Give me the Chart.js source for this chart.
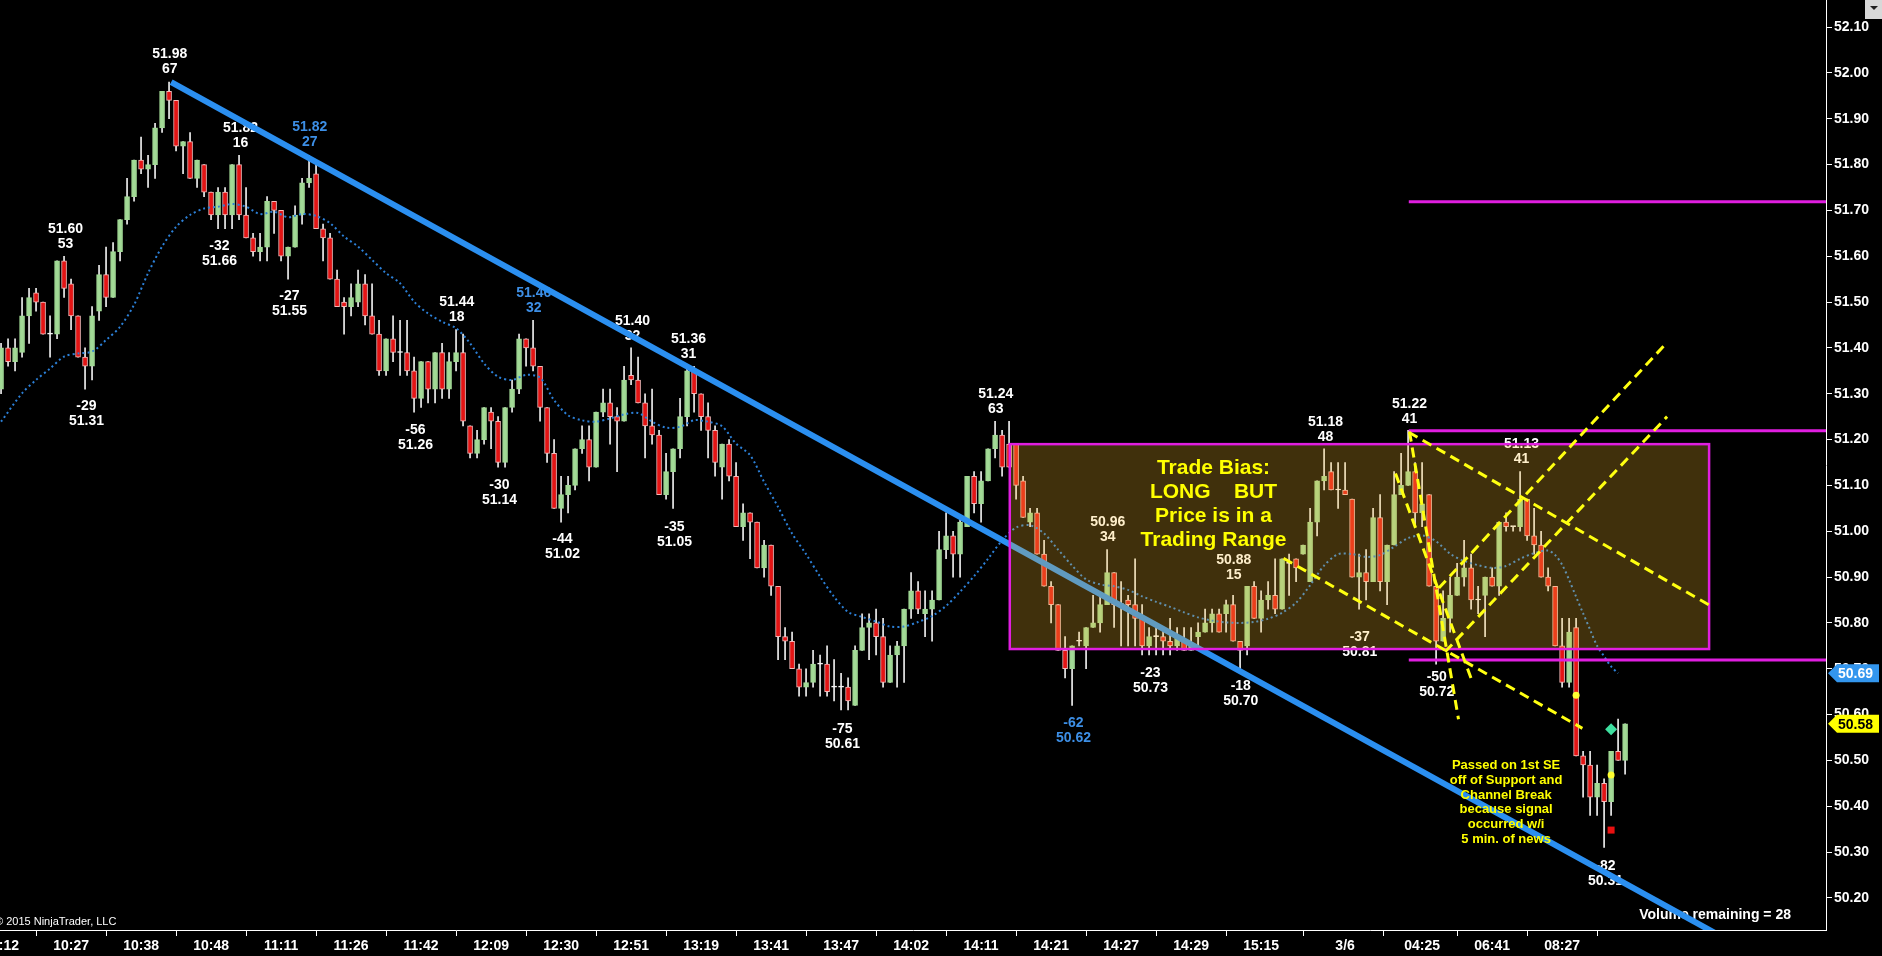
<!DOCTYPE html>
<html>
<head>
<meta charset="utf-8">
<title>Tick chart</title>
<script src="https://cdn.jsdelivr.net/npm/chart.js@4.4.1/dist/chart.umd.min.js"></script>
<style>
  html, body { margin: 0; padding: 0; background: #000; overflow: hidden; }
  canvas { display: block; }
</style>
</head>
<body>
<canvas id="myChart" width="1882" height="956"></canvas>
<script>
// bar data (one bar per index)
var openPrices = [
  51.31,51.40,51.37,51.39,51.47,51.52,51.50,51.43,51.43,51.59,
  51.54,51.47,51.38,51.36,51.48,51.56,51.51,51.61,51.68,51.73,
  51.81,51.79,51.80,51.88,51.96,51.94,51.84,51.85,51.77,51.80,
  51.74,51.69,51.74,51.69,51.80,51.69,51.64,51.61,51.62,51.72,
  51.70,51.60,51.62,51.69,51.76,51.78,51.66,51.64,51.55,51.50,
  51.49,51.50,51.54,51.47,51.43,51.35,51.42,51.39,51.39,51.35,
  51.29,51.37,51.31,51.39,51.31,51.37,51.39,51.23,51.17,51.20,
  51.26,51.24,51.15,51.27,51.31,51.42,51.40,51.36,51.27,51.17,
  51.05,51.08,51.10,51.18,51.20,51.14,51.26,51.28,51.25,51.24,
  51.34,51.33,51.28,51.23,51.21,51.08,51.13,51.18,51.25,51.35,
  51.30,51.25,51.22,51.14,51.19,51.12,51.01,51.04,51.02,50.92,
  50.97,50.88,50.77,50.76,50.70,50.66,50.67,50.71,50.71,50.66,
  50.66,50.66,50.62,50.74,50.79,50.80,50.77,50.67,50.73,50.75,
  50.83,50.87,50.82,50.83,50.85,50.96,50.99,50.95,51.01,51.12,
  51.06,51.11,51.18,51.21,51.19,51.19,51.11,51.02,51.04,50.95,
  50.88,50.84,50.74,50.70,50.76,50.75,50.79,50.80,50.84,50.91,
  50.84,50.85,50.84,50.81,50.75,50.77,50.77,50.76,50.75,50.76,
  50.74,50.77,50.78,50.80,50.82,50.82,50.84,50.76,50.75,50.88,
  50.81,50.85,50.86,50.83,50.93,50.94,50.95,50.89,51.02,51.11,
  51.13,51.09,51.09,51.07,50.90,50.91,50.89,51.03,50.89,50.97,
  51.08,51.10,51.13,51.04,51.08,50.88,50.76,50.81,50.86,50.90,
  50.92,50.85,50.86,50.90,50.88,51.02,51.01,51.01,51.07,50.99,
  50.97,50.90,50.88,50.75,50.67,50.79,50.51,50.49,50.42,50.45,
  50.41,50.52,50.50
];
var highPrices = [
  51.41,51.42,51.42,51.51,51.53,51.53,51.50,51.47,51.59,51.60,
  51.55,51.47,51.40,51.49,51.58,51.62,51.63,51.68,51.77,51.81,
  51.86,51.82,51.89,51.96,51.98,51.94,51.85,51.87,51.81,51.80,
  51.74,51.75,51.75,51.80,51.82,51.75,51.65,51.65,51.73,51.72,
  51.70,51.62,51.71,51.77,51.82,51.80,51.67,51.65,51.57,51.51,
  51.54,51.57,51.56,51.54,51.46,51.42,51.47,51.46,51.46,51.38,
  51.37,51.37,51.39,51.41,51.39,51.44,51.43,51.23,51.22,51.27,
  51.27,51.25,51.27,51.33,51.43,51.42,51.46,51.36,51.27,51.20,
  51.12,51.12,51.18,51.23,51.23,51.26,51.31,51.31,51.27,51.36,
  51.40,51.38,51.30,51.31,51.22,51.17,51.18,51.29,51.36,51.36,
  51.30,51.28,51.23,51.19,51.20,51.15,51.06,51.04,51.02,50.98,
  50.97,50.88,50.79,50.78,50.71,50.70,50.74,50.73,50.75,50.72,
  50.69,50.68,50.75,50.82,50.82,50.83,50.81,50.75,50.76,50.83,
  50.91,50.89,50.87,50.87,51.00,51.04,51.00,51.03,51.12,51.13,
  51.13,51.18,51.24,51.22,51.24,51.19,51.12,51.05,51.05,50.98,
  50.89,50.84,50.77,50.75,50.78,50.79,50.86,50.86,50.96,50.91,
  50.89,50.86,50.94,50.84,50.79,50.79,50.79,50.81,50.79,50.79,
  50.79,50.80,50.83,50.83,50.83,50.85,50.86,50.76,50.88,50.89,
  50.87,50.89,50.94,50.94,50.95,50.94,50.97,51.05,51.11,51.18,
  51.15,51.15,51.15,51.07,50.95,50.96,51.05,51.08,50.97,51.13,
  51.17,51.22,51.15,51.15,51.08,50.88,50.87,50.90,50.93,50.98,
  50.95,50.88,50.90,50.92,51.02,51.04,51.01,51.13,51.07,51.05,
  51.00,50.92,50.88,50.81,50.81,50.81,50.52,50.52,50.49,50.46,
  50.52,50.59,50.58
];
var lowPrices = [
  51.30,51.36,51.35,51.38,51.41,51.48,51.43,51.38,51.42,51.51,
  51.44,51.38,51.31,51.33,51.46,51.49,51.51,51.59,51.67,51.72,
  51.78,51.75,51.77,51.87,51.90,51.83,51.78,51.77,51.75,51.73,
  51.68,51.66,51.66,51.66,51.68,51.64,51.60,51.59,51.59,51.65,
  51.59,51.55,51.62,51.67,51.75,51.66,51.59,51.55,51.49,51.43,
  51.47,51.49,51.45,51.43,51.34,51.34,51.37,51.34,51.34,51.26,
  51.27,51.28,51.28,51.29,51.29,51.35,51.23,51.16,51.16,51.19,
  51.18,51.14,51.14,51.26,51.30,51.36,51.35,51.24,51.15,51.05,
  51.02,51.04,51.09,51.17,51.11,51.14,51.25,51.19,51.13,51.24,
  51.32,51.28,51.16,51.19,51.08,51.07,51.05,51.16,51.23,51.26,
  51.22,51.16,51.12,51.07,51.11,51.01,50.98,50.94,50.92,50.90,
  50.86,50.72,50.72,50.70,50.64,50.64,50.66,50.64,50.64,50.63,
  50.61,50.61,50.62,50.74,50.72,50.73,50.66,50.67,50.66,50.67,
  50.81,50.82,50.77,50.76,50.85,50.94,50.90,50.90,51.01,51.04,
  51.02,51.11,51.16,51.12,51.14,51.07,51.03,51.01,50.95,50.88,
  50.80,50.74,50.68,50.62,50.75,50.70,50.79,50.78,50.84,50.79,
  50.75,50.75,50.75,50.73,50.73,50.73,50.73,50.73,50.74,50.74,
  50.74,50.75,50.78,50.78,50.78,50.78,50.76,50.70,50.73,50.81,
  50.78,50.83,50.82,50.83,50.86,50.89,50.95,50.89,50.99,51.09,
  51.09,51.05,51.08,50.90,50.83,50.85,50.89,50.87,50.84,50.97,
  51.08,51.10,51.01,51.01,50.88,50.71,50.76,50.78,50.86,50.88,
  50.83,50.82,50.77,50.88,50.86,51.00,51.00,51.00,50.98,50.95,
  50.90,50.87,50.75,50.66,50.66,50.51,50.42,50.38,50.38,50.31,
  50.38,50.50,50.47
];
var closePrices = [
  51.40,51.37,51.40,51.47,51.51,51.50,51.43,51.43,51.59,51.53,
  51.47,51.38,51.36,51.47,51.56,51.51,51.61,51.68,51.73,51.81,
  51.79,51.80,51.88,51.96,51.94,51.84,51.85,51.77,51.81,51.74,
  51.69,51.74,51.69,51.80,51.69,51.64,51.61,51.62,51.72,51.70,
  51.60,51.62,51.69,51.76,51.77,51.66,51.64,51.55,51.49,51.49,
  51.51,51.54,51.47,51.43,51.35,51.42,51.39,51.39,51.35,51.29,
  51.37,51.31,51.39,51.31,51.37,51.39,51.24,51.17,51.20,51.27,
  51.24,51.15,51.27,51.31,51.42,51.40,51.36,51.27,51.17,51.05,
  51.08,51.10,51.18,51.20,51.14,51.26,51.28,51.25,51.24,51.33,
  51.33,51.28,51.23,51.21,51.08,51.13,51.18,51.25,51.35,51.30,
  51.25,51.22,51.15,51.19,51.12,51.01,51.04,51.02,50.92,50.97,
  50.88,50.77,50.76,50.70,50.66,50.67,50.71,50.71,50.65,50.66,
  50.66,50.63,50.74,50.79,50.80,50.77,50.67,50.73,50.75,50.83,
  50.87,50.83,50.83,50.85,50.96,50.99,50.95,51.02,51.12,51.06,
  51.11,51.18,51.21,51.14,51.14,51.10,51.03,51.04,50.95,50.88,
  50.84,50.74,50.70,50.75,50.76,50.79,50.80,50.84,50.91,50.84,
  50.84,50.84,50.81,50.75,50.77,50.77,50.76,50.75,50.77,50.74,
  50.75,50.78,50.80,50.82,50.78,50.84,50.76,50.74,50.88,50.81,
  50.85,50.86,50.83,50.94,50.93,50.92,50.97,51.02,51.11,51.12,
  51.09,51.09,51.08,50.90,50.91,50.89,51.03,50.89,50.97,51.08,
  51.10,51.13,51.04,51.06,50.88,50.76,50.81,50.86,50.90,50.92,
  50.85,50.85,50.90,50.88,51.02,51.01,51.01,51.07,50.99,50.97,
  50.90,50.88,50.75,50.67,50.78,50.51,50.49,50.42,50.45,50.41,
  50.52,50.50,50.58
];

// dotted average line (bar index, value)
var maIdx = [0,3,5,7,9,11,13,15,17,19,21,23,25,27,29,31,33,35,37,39,41,43,45,47,49,51,53,55,57,59,
  61,63,65,67,69,71,73,75,77,79,81,83,85,87,89,91,93,95,97,99,101,103,105,107,109,111,113,115,117,119,
  121,123,125,127,129,131,133,135,137,139,141,143,145,147,149,151,153,155,157,159,161,163,165,167,169,
  171,173,175,177,179,181,183,185,187,189,191,193,195,197,199,201,203,205,207,209,211,213,215,217,219,
  221,222,223,224,225,226,227,228,229,230,231];
var maVal = [51.239,51.301,51.330,51.355,51.381,51.388,51.392,51.417,51.446,51.494,51.563,51.621,51.664,51.690,51.704,
  51.708,51.714,51.708,51.692,51.697,51.685,51.692,51.688,51.672,51.643,51.621,51.592,51.563,51.541,51.501,
  51.475,51.457,51.443,51.410,51.366,51.337,51.330,51.341,51.335,51.286,51.253,51.242,51.239,51.246,51.255,
  51.258,51.239,51.226,51.228,51.242,51.239,51.229,51.191,51.166,51.108,51.053,50.995,50.950,50.901,50.857,
  50.824,50.813,50.803,50.792,50.792,50.802,50.815,50.837,50.868,50.902,50.940,50.980,51.008,51.013,50.995,
  50.960,50.925,50.895,50.884,50.880,50.872,50.858,50.846,50.835,50.823,50.812,50.805,50.801,50.800,50.802,
  50.809,50.822,50.844,50.882,50.925,50.950,50.950,50.944,50.948,50.966,50.985,50.991,50.978,50.951,50.935,
  50.926,50.920,50.924,50.940,50.952,50.958,50.948,50.927,50.894,50.857,50.821,50.785,50.750,50.727,50.705,
  50.690];

// time axis
var tickIdx = [0,10,20,30,40,50,60,70,80,90,100,110,120,130,140,150,160,170,180,192,203,213,223];
var tickLabels = ['10:12','10:27','10:38','10:48','11:11','11:26','11:42','12:09','12:30','12:51','13:19','13:41',
  '13:47','14:02','14:11','14:21','14:27','14:29','15:15','3/6','04:25','06:41','08:27'];

// swing high / low labels
var swingTop = ['51.98','51.82','51.82','51.60','-29','-32','-27','51.44','-56','-30','51.46','51.40','51.36','-44',
  '-35','-75','51.24','-62','50.96','-23','50.88','-18','51.18','-37','51.22','-50','51.13','-82'];
var swingBottom = ['67','16','27','53','51.31','51.66','51.55','18','51.26','51.14','32','32','31','51.02',
  '51.05','50.61','63','50.62','34','50.73','15','50.70','48','50.81','41','50.72','41','50.31'];
var swingIdx = [24.1,34.2,44.1,9.2,12.2,31.2,41.2,65.1,59.2,71.2,76.1,90.2,98.2,80.2,
  96.2,120.2,142.1,153.2,158.1,164.2,176.1,177.1,189.2,194.1,201.2,205.1,217.2,229.2];
var swingPrice = [52.041,51.880,51.881,51.659,51.272,51.621,51.512,51.499,51.221,51.101,51.520,51.459,51.420,50.982,
  51.010,50.569,51.299,50.581,51.019,50.691,50.937,50.661,51.239,50.770,51.278,50.681,51.190,50.270];
var swingBlue = [0,0,1,0,0,0,0,0,0,0,1,0,0,0,0,0,0,1,0,0,0,0,0,0,0,0,0,0];

// drawings
var trendIdx = [24.3, 250];
var trendPrice = [51.98, 50.08];
var boxIdx = [144.1, 244.0];
var boxPrice = [51.190, 50.743];
var levelPrices = [51.719, 51.219, 50.719];
var levelStart = 201.1;
var yellowLines = [
  [183.2, 50.941, 225.9, 50.570],
  [201.1, 51.216, 244.0, 50.839],
  [201.2, 51.217, 208.2, 50.590],
  [199.2, 51.126, 210.1, 50.675],
  [205.4, 50.876, 238.0, 51.412],
  [206.3, 50.737, 238.0, 51.250]
];
var biasLines = ['Trade Bias:', 'LONG    BUT', 'Price is in a', 'Trading Range'];
var biasIdx = 173.2;
var biasPrice = 51.138;
var noteLines = ['Passed on 1st SE', 'off of Support and', 'Channel Break', 'because signal', 'occurred w/i', '5 min. of news'];
var noteIdx = 215.0;
var notePrice = 50.489;
var lastAvg = 50.69;
var lastPrice = 50.58;

var FONT = '"Liberation Sans", Arial, Helvetica, sans-serif';
var GREEN = '#a2da96';
var RED = '#e41414';

var bodyData = [], wickData = [], bodyBg = [], bodyBorder = [];
for (var i = 0; i < openPrices.length; i++) {
  bodyData.push({x: i, y: [openPrices[i], closePrices[i]]});
  wickData.push({x: i, y: [lowPrices[i], highPrices[i]]});
  if (closePrices[i] > openPrices[i]) { bodyBg.push(GREEN); bodyBorder.push(GREEN); }
  else if (closePrices[i] < openPrices[i]) { bodyBg.push(RED); bodyBorder.push('#f6b8b8'); }
  else { bodyBg.push('#ffffff'); bodyBorder.push('#ffffff'); }
}
var maData = maIdx.map(function (v, k) { return {x: v, y: maVal[k]}; });

function xp(chart, v) { return chart.scales.x.getPixelForValue(v); }
function yp(chart, v) { return chart.scales.y.getPixelForValue(v); }

function flag(ctx, x, y, bg, fg, text) {
  ctx.beginPath();
  ctx.moveTo(x + 2, y);
  ctx.lineTo(x + 11, y - 9);
  ctx.lineTo(x + 53, y - 9);
  ctx.lineTo(x + 53, y + 9);
  ctx.lineTo(x + 11, y + 9);
  ctx.closePath();
  ctx.fillStyle = bg;
  ctx.fill();
  ctx.fillStyle = fg;
  ctx.font = 'bold 14px ' + FONT;
  ctx.textAlign = 'left';
  ctx.textBaseline = 'middle';
  ctx.fillText(text, x + 12, y + 1);
}

var drawings = {
  id: 'drawings',
  afterDatasetsDraw: function (chart) {
    var ctx = chart.ctx, a = chart.chartArea, k, x, y;
    ctx.save();

    // swing labels
    ctx.textAlign = 'center';
    ctx.textBaseline = 'middle';
    ctx.font = 'bold 14px ' + FONT;
    for (k = 0; k < swingTop.length; k++) {
      ctx.fillStyle = swingBlue[k] ? '#3d8fe6' : '#ffffff';
      x = xp(chart, swingIdx[k]);
      y = yp(chart, swingPrice[k]);
      ctx.fillText(swingTop[k], x, y);
      ctx.fillText(swingBottom[k], x, y + 15);
    }

    ctx.fillStyle = '#ffffff';
    ctx.font = 'bold 14px ' + FONT;
    ctx.textAlign = 'right';
    ctx.fillText('Volume remaining = 28', a.right - 35, a.bottom - 15);

    ctx.textAlign = 'left';
    ctx.font = '11px ' + FONT;
    ctx.fillText('\u00a9 2015 NinjaTrader, LLC', a.left - 5, a.bottom - 8);

    ctx.beginPath();
    ctx.rect(a.left, a.top, a.right - a.left, a.bottom - a.top);
    ctx.clip();

    // down trend line
    ctx.strokeStyle = '#2b8ff0';
    ctx.lineWidth = 6;
    ctx.beginPath();
    ctx.moveTo(xp(chart, trendIdx[0]), yp(chart, trendPrice[0]));
    ctx.lineTo(xp(chart, trendIdx[1]), yp(chart, trendPrice[1]));
    ctx.stroke();

    // note under the range (sits on top of the trend line)
    ctx.fillStyle = '#ffff00';
    ctx.font = 'bold 13px ' + FONT;
    ctx.textAlign = 'center';
    x = xp(chart, noteIdx);
    y = yp(chart, notePrice);
    for (k = 0; k < noteLines.length; k++) ctx.fillText(noteLines[k], x, y + k * 14.8);

    // trading range box
    var bx1 = xp(chart, boxIdx[0]), bx2 = xp(chart, boxIdx[1]);
    var by1 = yp(chart, boxPrice[0]), by2 = yp(chart, boxPrice[1]);
    ctx.fillStyle = 'rgba(255,190,48,0.25)';
    ctx.fillRect(bx1, by1, bx2 - bx1, by2 - by1);
    ctx.strokeStyle = '#e01ee0';
    ctx.lineWidth = 2.5;
    ctx.strokeRect(bx1, by1, bx2 - bx1, by2 - by1);

    // levels
    ctx.lineWidth = 3;
    for (k = 0; k < levelPrices.length; k++) {
      y = yp(chart, levelPrices[k]);
      ctx.beginPath();
      ctx.moveTo(xp(chart, levelStart), y);
      ctx.lineTo(a.right, y);
      ctx.stroke();
    }

    // yellow channel lines
    ctx.strokeStyle = '#ffff10';
    ctx.lineWidth = 3;
    ctx.setLineDash([10, 6]);
    for (k = 0; k < yellowLines.length; k++) {
      var l = yellowLines[k];
      ctx.beginPath();
      ctx.moveTo(xp(chart, l[0]), yp(chart, l[1]));
      ctx.lineTo(xp(chart, l[2]), yp(chart, l[3]));
      ctx.stroke();
    }
    ctx.setLineDash([]);

    // bias text
    ctx.fillStyle = '#ffff00';
    ctx.font = 'bold 21px ' + FONT;
    ctx.textAlign = 'center';
    x = xp(chart, biasIdx);
    y = yp(chart, biasPrice);
    for (k = 0; k < biasLines.length; k++) ctx.fillText(biasLines[k], x, y + k * 24);

    // signal marks
    ctx.fillStyle = '#ffff30';
    ctx.beginPath(); ctx.arc(xp(chart, 225), yp(chart, 50.642), 3.5, 0, Math.PI * 2); ctx.fill();
    ctx.beginPath(); ctx.arc(xp(chart, 230), yp(chart, 50.468), 3.5, 0, Math.PI * 2); ctx.fill();
    x = xp(chart, 230); y = yp(chart, 50.568);
    ctx.fillStyle = '#3ee0a0';
    ctx.beginPath(); ctx.moveTo(x, y - 6); ctx.lineTo(x + 6, y); ctx.lineTo(x, y + 6); ctx.lineTo(x - 6, y); ctx.closePath(); ctx.fill();
    x = xp(chart, 230); y = yp(chart, 50.348);
    ctx.fillStyle = '#e81010';
    ctx.fillRect(x - 3.5, y - 3.5, 7, 7);
    ctx.restore();

    // price flags on the axis
    ctx.save();
    flag(ctx, a.right, yp(chart, lastAvg), '#3396ee', '#ffffff', lastAvg.toFixed(2));
    flag(ctx, a.right, yp(chart, lastPrice), '#ffff00', '#000000', lastPrice.toFixed(2));
    // little menu button top right
    ctx.fillStyle = '#d8d8d8';
    ctx.fillRect(chart.width - 17, 0, 17, 19);
    ctx.fillStyle = '#202020';
    ctx.beginPath();
    ctx.moveTo(chart.width - 12, 6); ctx.lineTo(chart.width - 4, 6); ctx.lineTo(chart.width - 8, 10); ctx.closePath(); ctx.fill();
    ctx.restore();
  }
};

var ctx = document.getElementById('myChart').getContext('2d');
var myChart = new Chart(ctx, {
  type: 'bar',
  data: {
    datasets: [
      {
        type: 'line',
        data: maData,
        borderColor: '#2c80d8',
        borderWidth: 2,
        borderDash: [2, 3],
        pointRadius: 0,
        tension: 0.3,
        order: 0
      },
      {
        data: bodyData,
        backgroundColor: bodyBg,
        borderColor: bodyBorder,
        borderWidth: 1,
        borderSkipped: false,
        barThickness: 5,
        minBarLength: 1,
        grouped: false,
        order: 1
      },
      {
        data: wickData,
        backgroundColor: '#eeeeee',
        borderWidth: 0,
        barThickness: 1,
        grouped: false,
        order: 2
      }
    ]
  },
  options: {
    responsive: false,
    animation: false,
    devicePixelRatio: 1,
    events: [],
    layout: { padding: 0 },
    plugins: { legend: { display: false }, tooltip: { enabled: false } },
    scales: {
      x: {
        type: 'linear',
        min: -0.15,
        max: 260.7,
        offset: false,
        grid: { drawOnChartArea: false, drawTicks: true, tickLength: 6, tickColor: '#ffffff' },
        border: { display: true, color: '#ffffff', width: 1 },
        ticks: {
          color: '#ffffff',
          font: { family: FONT, size: 14, weight: 'bold' },
          autoSkip: false,
          maxRotation: 0,
          padding: 2,
          callback: function (v) {
            var n = tickIdx.indexOf(v);
            return n >= 0 ? tickLabels[n] : '';
          }
        },
        afterBuildTicks: function (scale) {
          scale.ticks = tickIdx.map(function (v) { return {value: v}; });
        },
        afterFit: function (scale) {
          scale.height = 26;
          scale.paddingLeft = 0;
          scale.paddingRight = 0;
        }
      },
      y: {
        type: 'linear',
        position: 'right',
        min: 50.13,
        max: 52.159,
        grid: { drawOnChartArea: false, drawTicks: true, tickLength: 6, tickColor: '#ffffff' },
        border: { display: true, color: '#ffffff', width: 1 },
        ticks: {
          stepSize: 0.1,
          includeBounds: false,
          color: '#ffffff',
          padding: 2,
          font: { family: FONT, size: 14, weight: 'bold' },
          callback: function (v) { return Number(v).toFixed(2); }
        },
        afterFit: function (scale) {
          scale.width = 56;
          scale.paddingTop = 0;
          scale.paddingBottom = 0;
        }
      }
    }
  },
  plugins: [drawings]
});
</script>
</body>
</html>
